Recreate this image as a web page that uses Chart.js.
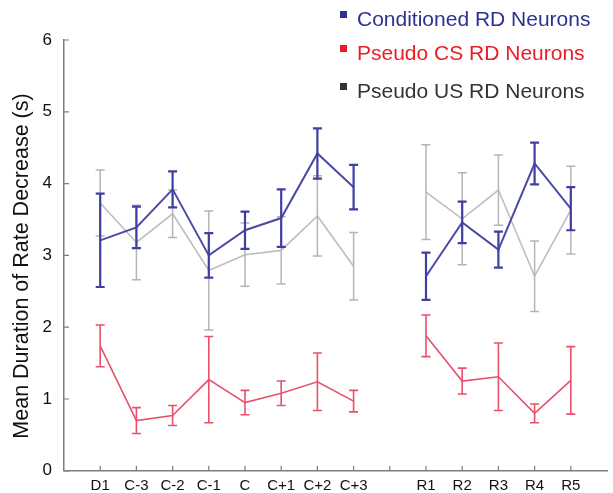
<!DOCTYPE html>
<html>
<head>
<meta charset="utf-8">
<script src="https://cdn.jsdelivr.net/npm/chart.js@4.4.1/dist/chart.umd.min.js"></script>
<style>
  html, body { margin: 0; padding: 0; background: #fff; }
  canvas { display: block; }
</style>
</head>
<body>
<canvas id="chart" width="613" height="493"></canvas>
<script>
// Sessions: acquisition days then retention days (blank slot between)
const acqLabels = ['D1', 'C-3', 'C-2', 'C-1', 'C', 'C+1', 'C+2', 'C+3'];
const retLabels = ['R1', 'R2', 'R3', 'R4', 'R5'];

// Conditioned RD Neurons (mean, error) - D1..C+3 then R1..R5
const condMean = [3.21, 3.39, 3.92, 3.00, 3.35, 3.52, 4.42, 3.95, 2.71, 3.46, 3.08, 4.28, 3.65];
const condErr  = [0.65, 0.29, 0.25, 0.31, 0.26, 0.40, 0.35, 0.31, 0.33, 0.29, 0.25, 0.29, 0.30];

// Pseudo CS RD Neurons
const csMean = [1.74, 0.70, 0.77, 1.27, 0.95, 1.08, 1.24, 0.97, 1.88, 1.25, 1.31, 0.80, 1.26];
const csErr  = [0.29, 0.18, 0.14, 0.60, 0.17, 0.17, 0.40, 0.15, 0.29, 0.18, 0.47, 0.13, 0.47];

// Pseudo US RD Neurons
const usMean = [3.73, 3.18, 3.58, 2.79, 3.01, 3.07, 3.55, 2.85, 3.88, 3.51, 3.91, 2.71, 3.63];
const usErr  = [0.46, 0.52, 0.33, 0.83, 0.44, 0.47, 0.56, 0.47, 0.66, 0.64, 0.49, 0.49, 0.61];

const yTicks = [0, 1, 2, 3, 4, 5, 6];
const yTitle = 'Mean Duration of Rate Decrease (s)';

const FONT = '"Liberation Sans", Arial, sans-serif';

// category axis: empty slot at both ends and between the two phases
const labels = ['', ...acqLabels, '', ...retLabels, ''];
function pad(arr) {
  return [null, ...arr.slice(0, acqLabels.length), null, ...arr.slice(acqLabels.length), null];
}

// ==================== Error bars ====================
const errorBars = {
  id: 'errorBars',
  afterDatasetDraw(chart, args) {
    const ds = chart.data.datasets[args.index];
    const y = chart.scales.y;
    const ctx = chart.ctx;
    ctx.save();
    ctx.strokeStyle = ds.errColor;
    ctx.lineWidth = ds.errWidth;
    args.meta.data.forEach((pt, i) => {
      const v = ds.data[i];
      if (v == null) return;
      const top = y.getPixelForValue(v + ds.err[i]);
      const bot = y.getPixelForValue(v - ds.err[i]);
      const w = 4.5;
      ctx.beginPath();
      ctx.moveTo(pt.x, top); ctx.lineTo(pt.x, bot);
      ctx.moveTo(pt.x - w, top); ctx.lineTo(pt.x + w, top);
      ctx.moveTo(pt.x - w, bot); ctx.lineTo(pt.x + w, bot);
      ctx.stroke();
    });
    ctx.restore();
  }
};

// ==================== Inward tick marks + y title ====================
const axisExtras = {
  id: 'axisExtras',
  afterDraw(chart) {
    const { ctx, chartArea, scales: { x, y } } = chart;
    ctx.save();
    ctx.strokeStyle = '#7d7d7d';
    ctx.lineWidth = 1.2;
    ctx.beginPath();
    x.ticks.forEach((t, i) => {
      if (i === 0 || i === x.ticks.length - 1) return;
      const px = x.getPixelForTick(i);
      ctx.moveTo(px, chartArea.bottom);
      ctx.lineTo(px, chartArea.bottom - 5);
    });
    y.ticks.forEach((t, i) => {
      const py = y.getPixelForTick(i);
      ctx.moveTo(chartArea.left, py);
      ctx.lineTo(chartArea.left + 5, py);
    });
    ctx.stroke();

    // rotated y-axis title, sits a little below the axis middle
    ctx.translate(28, 266);
    ctx.rotate(-Math.PI / 2);
    ctx.font = '21.5px ' + FONT;
    ctx.fillStyle = '#111';
    ctx.textAlign = 'center';
    ctx.textBaseline = 'alphabetic';
    ctx.fillText(yTitle, 0, 0);
    ctx.restore();
  }
};

// ==================== Legend (top right) ====================
const legendRows = [
  { y: 20, text: '#2e3192', box: '#2e3192' },
  { y: 54, text: '#ec1c24', box: '#ec1c24' },
  { y: 92, text: '#333333', box: '#333333' }
];
const legendBox = {
  id: 'legendBox',
  afterDraw(chart) {
    const ctx = chart.ctx;
    ctx.save();
    ctx.font = '21px ' + FONT;
    ctx.textBaseline = 'middle';
    chart.data.datasets.forEach((ds, i) => {
      const row = legendRows[i];
      ctx.fillStyle = row.box;
      ctx.fillRect(340, row.y - 9, 7, 7);
      ctx.fillStyle = row.text;
      ctx.fillText(ds.label, 357, row.y);
    });
    ctx.restore();
  }
};

const ctx = document.getElementById('chart').getContext('2d');
new Chart(ctx, {
  type: 'line',
  data: {
    labels: labels,
    datasets: [
      {
        label: 'Conditioned RD Neurons',
        data: pad(condMean),
        err: pad(condErr),
        borderColor: '#4b4ba8',
        errColor: '#3f3fa3',
        borderWidth: 2,
        errWidth: 2.2,
        order: 0
      },
      {
        label: 'Pseudo CS RD Neurons',
        data: pad(csMean),
        err: pad(csErr),
        borderColor: '#e8506c',
        errColor: '#e8506c',
        borderWidth: 1.6,
        errWidth: 1.6,
        order: 1
      },
      {
        label: 'Pseudo US RD Neurons',
        data: pad(usMean),
        err: pad(usErr),
        borderColor: '#bdbdbd',
        errColor: '#b5b5b5',
        borderWidth: 1.6,
        errWidth: 1.5,
        order: 2
      }
    ]
  },
  options: {
    responsive: false,
    animation: false,
    layout: { padding: { top: 40, right: 0, bottom: 0, left: 0 } },
    plugins: { legend: { display: false }, tooltip: { enabled: false } },
    elements: { point: { radius: 0 }, line: { tension: 0, fill: false } },
    scales: {
      x: {
        grid: { drawOnChartArea: false, drawTicks: false },
        border: { color: '#7d7d7d', width: 1.5 },
        ticks: { autoSkip: false, maxRotation: 0, padding: 6, color: '#111', font: { size: 15, family: FONT } },
        afterFit: (s) => { s.height = 22; }
      },
      y: {
        min: 0,
        max: 6,
        grid: { drawOnChartArea: false, drawTicks: false },
        border: { color: '#7d7d7d', width: 1.5 },
        afterBuildTicks: (s) => { s.ticks = yTicks.map(v => ({ value: v })); },
        ticks: { padding: 12, color: '#111', font: { size: 17, family: FONT } },
        afterFit: (s) => { s.width = 64; }
      }
    }
  },
  plugins: [errorBars, axisExtras, legendBox]
});
</script>
</body>
</html>
